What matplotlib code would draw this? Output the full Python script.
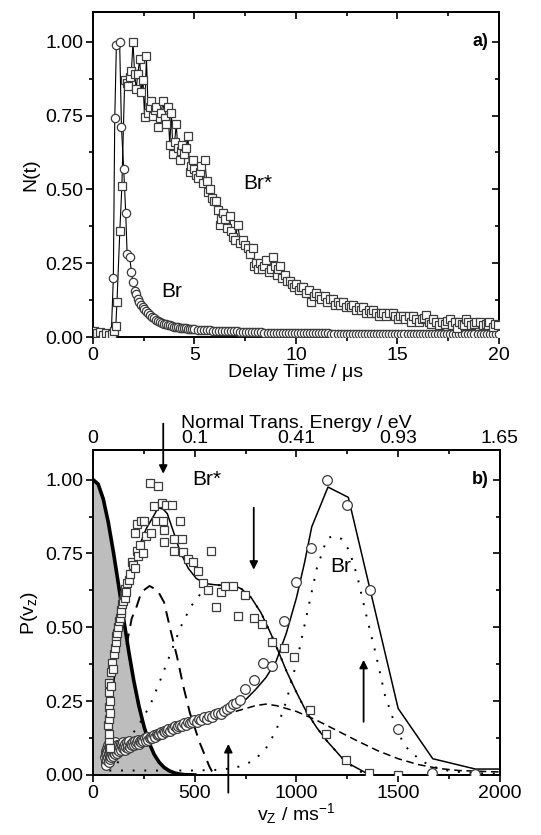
import numpy as np
import matplotlib.pyplot as plt
from matplotlib.ticker import MultipleLocator, FormatStrFormatter

plt.rcParams['font.family'] = ['Liberation Sans', 'DejaVu Sans']
plt.rcParams['mathtext.fontset'] = 'custom'
plt.rcParams['mathtext.rm'] = 'Liberation Sans'

# ---- panel a: N(t) vs delay time ----
t_brs = [0.05, 0.2, 0.35, 0.5, 0.65, 0.8, 0.95, 1.05, 1.12, 1.18, 1.32, 1.42, 1.56, 1.65, 1.72, 1.8,
         1.89, 1.97, 2.05, 2.13, 2.2, 2.3, 2.38, 2.46, 2.54, 2.63, 2.72, 2.8, 2.87, 2.95, 3.03, 3.12,
         3.2, 3.28, 3.36, 3.45, 3.53, 3.61, 3.69, 3.78, 3.86, 3.94, 4.02, 4.1, 4.18, 4.27, 4.35, 4.4,
         4.5, 4.6, 4.68, 4.76, 4.84, 4.92, 5.0, 5.08, 5.17, 5.25, 5.34, 5.42, 5.5, 5.6, 5.67, 5.75,
         5.85, 5.95, 6.07, 6.15, 6.24, 6.32, 6.4, 6.5, 6.6, 6.73, 6.8, 6.9, 7.0, 7.14, 7.25, 7.39,
         7.5, 7.63, 7.75, 7.88, 7.95, 8.05, 8.13, 8.21, 8.35, 8.45, 8.54, 8.65, 8.75, 8.87, 8.95, 9.05,
         9.12, 9.2, 9.32, 9.44, 9.55, 9.69, 9.8, 9.9, 10.0, 10.15, 10.25, 10.35, 10.5, 10.62, 10.76,
         10.88, 11.0, 11.12, 11.25, 11.41, 11.55, 11.68, 11.82, 11.95, 12.05, 12.18, 12.31, 12.45,
         12.6, 12.7, 12.8, 12.95, 13.1, 13.2, 13.3, 13.45, 13.6, 13.7, 13.79, 13.95, 14.1, 14.2, 14.28,
         14.45, 14.6, 14.78, 14.9, 15.05, 15.15, 15.27, 15.4, 15.55, 15.65, 15.76, 15.9, 16.05, 16.2,
         16.3, 16.42, 16.55, 16.65, 16.75, 16.9, 17.05, 17.2, 17.35, 17.45, 17.57, 17.7, 17.85, 17.95,
         18.06, 18.2, 18.3, 18.39, 18.5, 18.65, 18.8, 18.9, 19.05, 19.2, 19.35, 19.45, 19.54, 19.7,
         19.8, 19.95]
n_brs = [0.02, 0.012, 0.018, 0.008, 0.012, 0.006, 0.01, 0.02, 0.037, 0.12, 0.36, 0.51, 0.87, 0.86,
         0.85, 0.88, 0.90, 1.0, 0.89, 0.84, 0.89, 0.94, 0.83, 0.87, 0.745, 0.95, 0.76, 0.78, 0.80,
         0.75, 0.77, 0.78, 0.71, 0.74, 0.76, 0.80, 0.74, 0.72, 0.78, 0.65, 0.76, 0.62, 0.66, 0.72,
         0.64, 0.60, 0.63, 0.65, 0.62, 0.64, 0.68, 0.56, 0.58, 0.60, 0.57, 0.55, 0.54, 0.56, 0.58,
         0.52, 0.60, 0.53, 0.49, 0.50, 0.47, 0.46, 0.46, 0.43, 0.38, 0.40, 0.42, 0.40, 0.37, 0.41,
         0.36, 0.34, 0.33, 0.38, 0.32, 0.33, 0.31, 0.30, 0.28, 0.30, 0.24, 0.25, 0.23, 0.25, 0.23,
         0.24, 0.26, 0.22, 0.23, 0.27, 0.24, 0.21, 0.23, 0.24, 0.20, 0.21, 0.19, 0.19, 0.18, 0.17,
         0.18, 0.16, 0.17, 0.17, 0.15, 0.16, 0.12, 0.14, 0.15, 0.14, 0.13, 0.14, 0.12, 0.13, 0.13,
         0.11, 0.12, 0.11, 0.12, 0.10, 0.11, 0.10, 0.11, 0.09, 0.10, 0.09, 0.10, 0.08, 0.09, 0.08,
         0.09, 0.08, 0.07, 0.08, 0.08, 0.07, 0.08, 0.08, 0.07, 0.06, 0.07, 0.07, 0.06, 0.07, 0.05,
         0.07, 0.06, 0.05, 0.06, 0.065, 0.075, 0.05, 0.045, 0.06, 0.05, 0.04, 0.05, 0.045, 0.055,
         0.06, 0.04, 0.05, 0.03, 0.05, 0.045, 0.04, 0.06, 0.05, 0.04, 0.045, 0.05, 0.05, 0.04, 0.045,
         0.04, 0.05, 0.035, 0.045, 0.04]

t_br = [0.0, 0.1, 0.2, 0.3, 0.4, 0.5, 0.6, 0.7, 0.8, 0.9, 1.0, 1.07, 1.15, 1.31, 1.4, 1.51, 1.61,
        1.68, 1.81, 1.89, 1.97, 2.05, 2.12, 2.2, 2.28, 2.36, 2.44, 2.52, 2.6, 2.7, 2.8, 2.9, 3.0,
        3.1, 3.2, 3.3, 3.4, 3.5, 3.6, 3.7, 3.8, 3.9, 4.0, 4.1, 4.2, 4.3, 4.4, 4.5, 4.6, 4.7, 4.8,
        4.9, 5.0, 5.15, 5.3, 5.45, 5.6, 5.75, 5.9, 6.05, 6.2, 6.35, 6.5, 6.65, 6.8, 6.95, 7.1, 7.25,
        7.4, 7.55, 7.7, 7.85, 8.0, 8.15, 8.3, 8.45, 8.6, 8.75, 8.9, 9.05, 9.2, 9.35, 9.5, 9.65, 9.8,
        9.95, 10.1, 10.25, 10.4, 10.55, 10.7, 10.85, 11.0, 11.15, 11.3, 11.45, 11.6, 11.75, 11.9,
        12.05, 12.2, 12.35, 12.5, 12.65, 12.8, 12.95, 13.1, 13.25, 13.4, 13.55, 13.7, 13.85, 14.0,
        14.15, 14.3, 14.45, 14.6, 14.75, 14.9, 15.05, 15.2, 15.35, 15.5, 15.65, 15.8, 15.95, 16.1,
        16.25, 16.4, 16.55, 16.7, 16.85, 17.0, 17.15, 17.3, 17.45, 17.6, 17.75, 17.9, 18.05, 18.2,
        18.35, 18.5, 18.65, 18.8, 18.95, 19.1, 19.25, 19.4, 19.55, 19.7, 19.85, 20.0]
n_br = [0.02, 0.015, 0.01, 0.012, 0.008, 0.01, 0.006, 0.008, 0.01, 0.012, 0.20, 0.74, 0.99, 1.0,
        0.71, 0.57, 0.42, 0.28, 0.27, 0.22, 0.185, 0.155, 0.145, 0.13, 0.12, 0.11, 0.10, 0.095,
        0.088, 0.08, 0.074, 0.068, 0.063, 0.058, 0.055, 0.052, 0.048, 0.045, 0.043, 0.041, 0.039,
        0.037, 0.035, 0.034, 0.033, 0.032, 0.031, 0.030, 0.029, 0.028, 0.027, 0.027, 0.026, 0.025,
        0.025, 0.024, 0.024, 0.023, 0.022, 0.022, 0.021, 0.021, 0.020, 0.020, 0.019, 0.019, 0.019,
        0.018, 0.018, 0.017, 0.017, 0.017, 0.016, 0.016, 0.016, 0.015, 0.015, 0.015, 0.015, 0.014,
        0.014, 0.014, 0.014, 0.014, 0.013, 0.013, 0.013, 0.013, 0.013, 0.013, 0.012, 0.012, 0.012,
        0.012, 0.012, 0.012, 0.012, 0.011, 0.011, 0.011, 0.011, 0.011, 0.011, 0.011, 0.011, 0.011,
        0.010, 0.010, 0.010, 0.010, 0.010, 0.010, 0.010, 0.010, 0.010, 0.010, 0.010, 0.010, 0.010,
        0.010, 0.010, 0.010, 0.010, 0.009, 0.009, 0.009, 0.009, 0.009, 0.009, 0.009, 0.009, 0.009,
        0.009, 0.009, 0.009, 0.009, 0.009, 0.009, 0.009, 0.009, 0.009, 0.009, 0.009, 0.009, 0.009,
        0.009, 0.009, 0.009, 0.009, 0.009, 0.009, 0.009, 0.009]

# ---- panel b: P(vz) ----
v_brs = [74, 76, 78, 79, 79, 79, 80, 80, 81, 82, 84, 87, 90, 95, 99, 103, 107, 111, 115, 119, 123,
         127, 131, 135, 139, 143, 147, 151, 155, 159, 163, 167, 175, 183, 190, 198, 206, 206, 214,
         214, 222, 230, 238, 246, 249, 262, 278, 286, 302, 310, 317, 337, 346, 349, 349, 357, 389,
         397, 397, 429, 437, 444, 468, 492, 516, 540, 563, 579, 603, 627, 651, 690, 714, 746, 790,
         833, 881, 937, 990, 1065, 1145, 1245, 1355, 1500]
p_brs = [0.17, 0.23, 0.10, 0.12, 0.14, 0.19, 0.28, 0.31, 0.21, 0.25, 0.09, 0.35, 0.30, 0.38, 0.36,
         0.41, 0.43, 0.45, 0.47, 0.48, 0.50, 0.52, 0.53, 0.55, 0.56, 0.58, 0.59, 0.61, 0.60, 0.63,
         0.62, 0.65, 0.66, 0.68, 0.72, 0.71, 0.70, 0.82, 0.76, 0.85, 0.74, 0.78, 0.86, 0.75, 0.86,
         0.81, 0.99, 0.82, 0.91, 0.86, 0.98, 0.92, 0.86, 0.83, 0.79, 0.915, 0.915, 0.80, 0.76, 0.86,
         0.80, 0.755, 0.73, 0.72, 0.69, 0.65, 0.625, 0.76, 0.57, 0.62, 0.64, 0.64, 0.54, 0.61, 0.53,
         0.51, 0.45, 0.43, 0.40, 0.22, 0.14, 0.05, 0.005, 0.0]

v_br = [60, 62, 64, 65, 66, 68, 70, 71, 72, 74, 75, 77, 78, 80, 81, 83, 85, 86, 88, 90, 92, 94, 96,
        98, 100, 102, 104, 106, 108, 110, 113, 115, 118, 120, 123, 125, 128, 130, 133, 136, 139,
        142, 145, 148, 152, 155, 158, 162, 166, 170, 174, 178, 182, 186, 190, 195, 200, 205, 210,
        215, 220, 225, 230, 236, 242, 248, 254, 260, 266, 272, 278, 285, 292, 298, 305, 312, 319,
        326, 333, 340, 348, 355, 362, 370, 378, 386, 394, 402, 411, 420, 429, 438, 447, 456, 466,
        476, 487, 498, 509, 520, 532, 545, 558, 572, 586, 600, 615, 630, 645, 660, 675, 690, 705,
        720, 745, 790, 835, 880, 940, 1000, 1070, 1150, 1250, 1360, 1500, 1665, 1880]
p_br = [0.06, 0.08, 0.045, 0.07, 0.035, 0.09, 0.05, 0.075, 0.10, 0.06, 0.085, 0.045, 0.07, 0.095,
        0.055, 0.08, 0.065, 0.1, 0.075, 0.06, 0.09, 0.07, 0.105, 0.08, 0.065, 0.095, 0.075, 0.085,
        0.11, 0.07, 0.09, 0.08, 0.1, 0.075, 0.095, 0.085, 0.1, 0.08, 0.095, 0.105, 0.085, 0.1, 0.09,
        0.11, 0.095, 0.085, 0.105, 0.095, 0.11, 0.09, 0.1, 0.115, 0.095, 0.105, 0.1, 0.11, 0.1,
        0.115, 0.105, 0.11, 0.12, 0.105, 0.115, 0.11, 0.12, 0.115, 0.125, 0.115, 0.13, 0.12, 0.125,
        0.13, 0.125, 0.135, 0.13, 0.14, 0.135, 0.14, 0.145, 0.14, 0.15, 0.145, 0.15, 0.155, 0.15,
        0.16, 0.155, 0.165, 0.16, 0.165, 0.17, 0.165, 0.175, 0.17, 0.18, 0.175, 0.18, 0.185, 0.18,
        0.19, 0.185, 0.195, 0.19, 0.20, 0.195, 0.205, 0.21, 0.205, 0.215, 0.225, 0.23, 0.24, 0.245,
        0.255, 0.29, 0.32, 0.38, 0.37, 0.52, 0.655, 0.77, 1.0, 0.915, 0.625, 0.155, 0.008, 0.002]

# fits
v_fit_brs = [80, 95, 110, 127, 145, 160, 175, 190, 210, 230, 262, 300, 320, 345, 365, 397, 429, 468,
             508, 556, 600, 650, 700, 730, 778, 825, 873, 913, 952, 1000, 1048, 1100, 1150, 1240, 1360]
p_fit_brs = [0.12, 0.26, 0.37, 0.46, 0.54, 0.59, 0.64, 0.68, 0.73, 0.78, 0.835, 0.88, 0.905, 0.90,
             0.885, 0.82, 0.755, 0.70, 0.665, 0.648, 0.644, 0.642, 0.64, 0.63, 0.60, 0.55, 0.48,
             0.415, 0.35, 0.28, 0.215, 0.16, 0.115, 0.045, 0.0]
v_fit_br = [75, 150, 250, 350, 450, 550, 650, 700, 750, 800, 850, 900, 950, 1000, 1040, 1075, 1155,
            1255, 1500, 1670, 1880, 2000]
p_fit_br = [0.07, 0.09, 0.11, 0.135, 0.16, 0.185, 0.215, 0.23, 0.255, 0.29, 0.33, 0.385, 0.48,
            0.60, 0.72, 0.84, 0.975, 0.94, 0.225, 0.055, 0.02, 0.02]
v_slow_brs = [120, 150, 175, 225, 280, 330, 380, 430, 480, 530, 590, 650, 700, 730, 778, 825, 873,
              913, 952, 1000, 1048, 1100, 1150, 1240, 1340]
p_slow_brs = [0.04, 0.08, 0.12, 0.17, 0.235, 0.32, 0.41, 0.50, 0.57, 0.615, 0.643, 0.642, 0.64,
              0.63, 0.60, 0.55, 0.48, 0.415, 0.35, 0.28, 0.215, 0.16, 0.115, 0.045, 0.0]
v_fast_brs = [165, 190, 214, 238, 278, 317, 349, 381, 413, 444, 476, 524, 571, 590]
p_fast_brs = [0.44, 0.53, 0.57, 0.62, 0.64, 0.625, 0.585, 0.49, 0.40, 0.30, 0.21, 0.11, 0.03, 0.005]
v_fast_br = [80, 200, 300, 400, 500, 600, 650, 700, 750, 800, 850, 900, 950, 1000, 1050, 1100,
             1150, 1180, 1220, 1260, 1300, 1340, 1390, 1435, 1485, 1530, 1600, 1660, 1760, 1880, 2000]
p_fast_br = [0.015, 0.015, 0.015, 0.015, 0.015, 0.017, 0.02, 0.025, 0.035, 0.055, 0.09, 0.15, 0.25,
             0.38, 0.54, 0.70, 0.80, 0.81, 0.80, 0.76, 0.67, 0.55, 0.41, 0.27, 0.17, 0.10, 0.055,
             0.03, 0.012, 0.006, 0.004]
v_slow_br = [80, 200, 300, 400, 500, 600, 700, 800, 850, 900, 1000, 1100, 1200, 1300, 1400, 1500,
             1600, 1700, 1800, 2000]
p_slow_br = [0.06, 0.09, 0.115, 0.14, 0.165, 0.19, 0.215, 0.235, 0.24, 0.235, 0.215, 0.185, 0.15,
             0.115, 0.082, 0.055, 0.035, 0.022, 0.015, 0.01]
v_thermal = [0, 25, 50, 75, 100, 125, 150, 175, 200, 225, 250, 275, 300, 325, 350, 375, 400, 425,
             450, 500]
p_thermal = [1.0, 0.985, 0.935, 0.855, 0.755, 0.645, 0.53, 0.42, 0.32, 0.235, 0.165, 0.11, 0.07,
             0.043, 0.025, 0.014, 0.007, 0.003, 0.001, 0.0]

energy_ticks = [0, 500, 1000, 1500, 2000]
energy_labels = ['0', '0.1', '0.41', '0.93', '1.65']

FS = 14


def style(ax, xmaj, xmin, ymaj, ymin, xlim, ylim):
    ax.set_xlim(*xlim)
    ax.set_ylim(*ylim)
    ax.xaxis.set_major_locator(MultipleLocator(xmaj))
    ax.xaxis.set_minor_locator(MultipleLocator(xmin))
    ax.yaxis.set_major_locator(MultipleLocator(ymaj))
    ax.yaxis.set_minor_locator(MultipleLocator(ymin))
    ax.yaxis.set_major_formatter(FormatStrFormatter('%.2f'))
    ax.tick_params(which='both', direction='out', top=False, right=False, width=1.2,
                   labelsize=FS, pad=2)
    ax.tick_params(which='major', length=5)
    ax.tick_params(which='minor', length=3)
    for s in ax.spines.values():
        s.set_linewidth(1.4)
    rax = ax.secondary_yaxis('right')
    rax.yaxis.set_major_locator(MultipleLocator(ymaj))
    rax.yaxis.set_minor_locator(MultipleLocator(ymin))
    rax.tick_params(which='both', direction='in', width=1.2, labelright=False)
    rax.tick_params(which='major', length=5)
    rax.tick_params(which='minor', length=3)
    rax.spines['right'].set_linewidth(1.4)
    tax = ax.secondary_xaxis('top')
    tax.xaxis.set_major_locator(MultipleLocator(xmaj))
    tax.xaxis.set_minor_locator(MultipleLocator(xmin))
    tax.tick_params(which='both', direction='in', width=1.2, labeltop=False)
    tax.tick_params(which='major', length=5)
    tax.tick_params(which='minor', length=3)
    tax.spines['top'].set_linewidth(1.4)
    return tax


fig = plt.figure(figsize=(5.41, 8.35), dpi=100)

# panel a
ax1 = fig.add_axes([0.172, 0.5964, 0.750, 0.389])
ax1.plot(t_brs, n_brs, color='k', lw=0.8, zorder=2)
ax1.plot(t_br, n_br, color='k', lw=0.8, zorder=2)
ax1.plot(t_br, n_br, ls='none', marker='o', ms=6, mfc='white', mec='#3c3c3c', mew=0.9, zorder=3)
ax1.plot(t_brs, n_brs, ls='none', marker='s', ms=5.5, mfc='white', mec='#3c3c3c', mew=0.9, zorder=3)
style(ax1, 5, 2.5, 0.25, 0.125, (0, 20), (0, 1.1))
ax1.set_xlabel('Delay Time / \u03bcs', fontsize=FS, labelpad=0)
ax1.set_ylabel('N(t)', fontsize=FS, labelpad=4)
ax1.text(8.1, 0.52, 'Br*', fontsize=FS + 1, ha='center', va='center')
ax1.text(3.9, 0.155, 'Br', fontsize=FS + 1, ha='center', va='center')
ax1.text(19.1, 1.0, 'a)', fontsize=FS - 1, fontweight='bold', ha='center', va='center')

# panel b
ax2 = fig.add_axes([0.172, 0.0719, 0.752, 0.389])
ax2.fill_between(v_thermal, p_thermal, color='#bdbdbd', lw=0, zorder=1)
ax2.plot(v_thermal, p_thermal, color='k', lw=2.6, zorder=2)
ax2.plot(v_fit_brs, p_fit_brs, color='k', lw=1.1, zorder=2)
ax2.plot(v_fit_br, p_fit_br, color='k', lw=1.1, zorder=2)
ax2.plot(v_slow_brs, p_slow_brs, color='k', lw=1.4, ls=(0, (1, 5)), zorder=2)
ax2.plot(v_fast_br, p_fast_br, color='k', lw=1.4, ls=(0, (1, 5)), zorder=2)
ax2.plot(v_fast_brs, p_fast_brs, color='k', lw=1.4, ls=(0, (6, 4)), zorder=2)
ax2.plot(v_slow_br, p_slow_br, color='k', lw=1.1, ls=(0, (5, 3)), zorder=2)
ax2.plot(v_br, p_br, ls='none', marker='o', ms=7, mfc='white', mec='#3c3c3c', mew=0.9, zorder=3)
ax2.plot(v_brs, p_brs, ls='none', marker='s', ms=6.2, mfc='white', mec='#3c3c3c', mew=0.9, zorder=3)
tax = style(ax2, 500, 250, 0.25, 0.125, (0, 2000), (0, 1.1))
tax.set_xticks(energy_ticks, labels=energy_labels)
tax.tick_params(labeltop=True, labelsize=FS, pad=2)
tax.set_xlabel('Normal Trans. Energy / eV', fontsize=FS, labelpad=2)
ax2.set_xlabel(r'$\mathregular{v_Z}$ / ms$^{\mathregular{-1}}$', fontsize=FS, labelpad=0)
ax2.set_ylabel(r'P($\mathregular{v_z}$)', fontsize=FS, labelpad=4)
ax2.text(560, 1.0, 'Br*', fontsize=FS + 1, ha='center', va='center')
ax2.text(1215, 0.705, 'Br', fontsize=FS + 1, ha='center', va='center')
ax2.text(1905, 1.0, 'b)', fontsize=FS - 1, fontweight='bold', ha='center', va='center')

arrow = dict(arrowstyle='-|>', color='k', lw=1.3, mutation_scale=12, shrinkA=0, shrinkB=0)
ax2.annotate('', xy=(345, 1.02), xytext=(345, 1.19), arrowprops=arrow, annotation_clip=False)
ax2.annotate('', xy=(790, 0.695), xytext=(790, 0.905), arrowprops=arrow, annotation_clip=False)
ax2.annotate('', xy=(665, 0.105), xytext=(665, -0.06), arrowprops=arrow, annotation_clip=False)
ax2.annotate('', xy=(1330, 0.39), xytext=(1330, 0.18), arrowprops=arrow, annotation_clip=False)

fig.savefig('out.png', dpi=100)
